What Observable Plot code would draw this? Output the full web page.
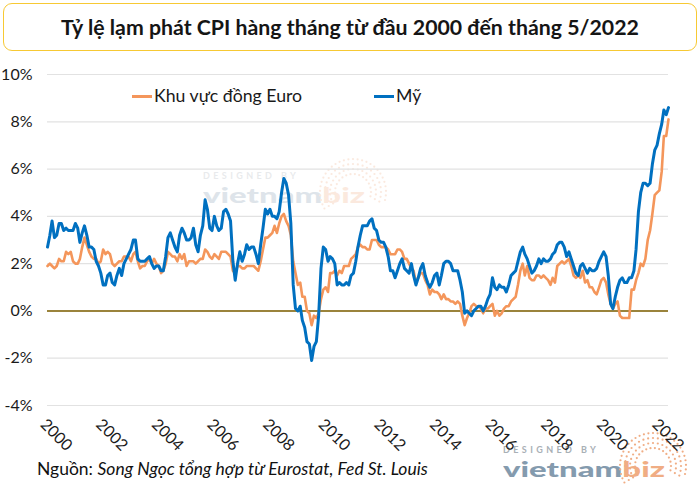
<!DOCTYPE html>
<html><head><meta charset="utf-8">
<script src="https://cdn.jsdelivr.net/npm/d3@7"></script>
<script src="https://cdn.jsdelivr.net/npm/@observablehq/plot@0.6"></script>
<style>
html,body{margin:0;padding:0;background:#fff;}
#wrap{position:relative;width:700px;height:490px;overflow:hidden;font-family:Lato,"Noto Sans",sans-serif;color:#1a1a1a;}
#title{position:absolute;left:3px;top:3px;width:694px;height:48px;box-sizing:border-box;border:1.5px solid #F7C934;border-radius:9px;display:flex;align-items:center;justify-content:center;font-weight:700;font-size:21.3px;color:#151515;}
#chart{position:absolute;left:0;top:56px;}
#legend{position:absolute;top:86px;left:0;font-size:17.7px;line-height:20px;}
.li{position:absolute;top:0;white-space:nowrap;display:flex;align-items:center;}
.sw{display:inline-block;width:20px;height:3px;margin-right:2px;}
#caption{position:absolute;left:37px;top:459px;font-size:17.5px;line-height:20px;color:#111;}
#wm{position:absolute;left:0;top:0;pointer-events:none;}
</style></head>
<body><div id="wrap">
<svg id="wm" width="700" height="490"></svg>
<div id="chart"></div>
<div id="title"></div>
<div id="legend"></div>
<div id="caption"></div>
</div>
<script>
const titleText = "Tỷ lệ lạm phát CPI hàng tháng từ đầu 2000 đến tháng 5/2022";
const captionLead = "Nguồn:";
const captionRest = "Song Ngọc tổng hợp từ Eurostat, Fed St. Louis";
const seriesNames = ["Khu vực đồng Euro", "Mỹ"];
const seriesColors = ["#F4965B", "#0070C0"];
const years = d3.range(2000, 2023);
const yTicks = [-4, -2, 0, 2, 4, 6, 8, 10];
const xTickYears = [2000, 2002, 2004, 2006, 2008, 2010, 2012, 2014, 2016, 2018, 2020, 2022];

// Euro area HICP, % y/y, monthly (Jan..Dec), 2000 .. May 2022
const euroArea = [
  [1.9, 2.0, 1.9, 1.8, 1.9, 2.2, 2.1, 2.1, 2.5, 2.4, 2.5, 2.1],
  [2.0, 2.0, 2.2, 2.7, 3.1, 2.8, 2.5, 2.3, 2.2, 2.2, 2.0, 2.1],
  [2.6, 2.4, 2.5, 2.4, 2.0, 1.9, 2.0, 2.1, 2.1, 2.3, 2.3, 2.3],
  [2.1, 2.4, 2.5, 2.1, 1.8, 1.9, 1.9, 2.1, 2.2, 2.0, 2.2, 2.0],
  [1.9, 1.6, 1.7, 2.0, 2.5, 2.4, 2.3, 2.3, 2.1, 2.4, 2.2, 2.4],
  [1.9, 2.1, 2.1, 2.1, 2.0, 2.1, 2.2, 2.2, 2.6, 2.5, 2.3, 2.2],
  [2.4, 2.3, 2.2, 2.5, 2.5, 2.5, 2.4, 2.3, 1.7, 1.6, 1.9, 1.9],
  [1.8, 1.8, 1.9, 1.9, 1.9, 1.9, 1.8, 1.7, 2.1, 2.6, 3.1, 3.1],
  [3.2, 3.3, 3.6, 3.3, 3.7, 4.0, 4.1, 3.8, 3.6, 3.2, 2.1, 1.6],
  [1.1, 1.2, 0.6, 0.6, 0.0, -0.1, -0.6, -0.2, -0.3, -0.1, 0.5, 0.9],
  [1.0, 0.8, 1.6, 1.6, 1.7, 1.5, 1.7, 1.6, 1.9, 1.9, 1.9, 2.2],
  [2.3, 2.4, 2.7, 2.8, 2.7, 2.7, 2.6, 2.6, 3.0, 3.0, 3.0, 2.8],
  [2.7, 2.7, 2.7, 2.6, 2.4, 2.4, 2.4, 2.6, 2.6, 2.5, 2.2, 2.2],
  [2.0, 1.8, 1.7, 1.2, 1.4, 1.6, 1.6, 1.3, 1.1, 0.7, 0.9, 0.8],
  [0.8, 0.7, 0.5, 0.7, 0.5, 0.5, 0.4, 0.4, 0.3, 0.4, 0.3, -0.2],
  [-0.6, -0.3, -0.1, 0.2, 0.3, 0.2, 0.2, 0.1, -0.1, 0.1, 0.1, 0.2],
  [0.3, -0.2, 0.0, -0.2, -0.1, 0.1, 0.2, 0.2, 0.4, 0.5, 0.6, 1.1],
  [1.7, 2.0, 1.5, 1.9, 1.4, 1.3, 1.3, 1.5, 1.5, 1.4, 1.5, 1.4],
  [1.3, 1.1, 1.4, 1.2, 1.9, 2.0, 2.1, 2.0, 2.1, 2.2, 1.9, 1.5],
  [1.4, 1.5, 1.4, 1.7, 1.2, 1.3, 1.0, 1.0, 0.8, 0.7, 1.0, 1.3],
  [1.4, 1.2, 0.7, 0.3, 0.1, 0.3, 0.4, -0.2, -0.3, -0.3, -0.3, -0.3],
  [0.9, 0.9, 1.3, 1.6, 2.0, 1.9, 2.2, 3.0, 3.4, 4.1, 4.9, 5.0],
  [5.1, 5.9, 7.4, 7.4, 8.1]
];

// US CPI-U, % y/y, monthly (Jan..Dec), 2000 .. May 2022
const usa = [
  [2.7, 3.2, 3.8, 3.1, 3.2, 3.7, 3.7, 3.4, 3.5, 3.4, 3.4, 3.4],
  [3.7, 3.5, 2.9, 3.3, 3.6, 3.2, 2.7, 2.7, 2.6, 2.1, 1.9, 1.6],
  [1.1, 1.1, 1.5, 1.6, 1.2, 1.1, 1.5, 1.8, 1.5, 2.0, 2.2, 2.4],
  [2.6, 3.0, 3.0, 2.2, 2.1, 2.1, 2.1, 2.2, 2.3, 2.0, 1.8, 1.9],
  [1.9, 1.7, 1.7, 2.3, 3.1, 3.3, 3.0, 2.7, 2.5, 3.2, 3.5, 3.3],
  [3.0, 3.0, 3.1, 3.5, 2.8, 2.5, 3.2, 3.6, 4.7, 4.3, 3.5, 3.4],
  [4.0, 3.6, 3.4, 3.5, 4.2, 4.3, 4.1, 3.8, 2.1, 1.3, 2.0, 2.5],
  [2.1, 2.4, 2.8, 2.6, 2.7, 2.7, 2.4, 2.0, 2.8, 3.5, 4.3, 4.1],
  [4.3, 4.0, 4.0, 3.9, 4.2, 5.0, 5.6, 5.4, 4.9, 3.7, 1.1, 0.1],
  [0.0, 0.2, -0.4, -0.7, -1.3, -1.4, -2.1, -1.5, -1.3, -0.2, 1.8, 2.7],
  [2.6, 2.1, 2.3, 2.2, 2.0, 1.1, 1.2, 1.1, 1.1, 1.2, 1.1, 1.5],
  [1.6, 2.1, 2.7, 3.2, 3.6, 3.6, 3.6, 3.8, 3.9, 3.5, 3.4, 3.0],
  [2.9, 2.9, 2.7, 2.3, 1.7, 1.7, 1.4, 1.7, 2.0, 2.2, 1.8, 1.7],
  [1.6, 2.0, 1.5, 1.1, 1.4, 1.8, 2.0, 1.5, 1.2, 1.0, 1.2, 1.5],
  [1.6, 1.1, 1.5, 2.0, 2.1, 2.1, 2.0, 1.7, 1.7, 1.7, 1.3, 0.8],
  [-0.1, 0.0, -0.1, -0.2, 0.0, 0.1, 0.2, 0.2, 0.0, 0.2, 0.5, 0.7],
  [1.4, 1.0, 0.9, 1.1, 1.0, 1.0, 0.8, 1.1, 1.5, 1.6, 1.7, 2.1],
  [2.5, 2.7, 2.4, 2.2, 1.9, 1.6, 1.7, 1.9, 2.2, 2.0, 2.2, 2.1],
  [2.1, 2.2, 2.4, 2.5, 2.8, 2.9, 2.9, 2.7, 2.3, 2.5, 2.2, 1.9],
  [1.6, 1.5, 1.9, 2.0, 1.8, 1.6, 1.8, 1.7, 1.7, 1.8, 2.1, 2.3],
  [2.5, 2.3, 1.5, 0.3, 0.1, 0.6, 1.0, 1.3, 1.4, 1.2, 1.2, 1.4],
  [1.4, 1.7, 2.6, 4.2, 5.0, 5.4, 5.4, 5.3, 5.4, 6.2, 6.8, 7.0],
  [7.5, 7.9, 8.5, 8.3, 8.6]
];

function toRows(table, name) {
  const rows = [];
  table.forEach((vals, i) => vals.forEach((v, m) => rows.push({date: new Date(Date.UTC(years[i], m, 1)), value: v, series: name})));
  return rows;
}
const euroRows = toRows(euroArea, seriesNames[0]);
const usRows = toRows(usa, seriesNames[1]);
const xTicks = xTickYears.map(y => new Date(Date.UTC(y, 0, 1)));

const chart = Plot.plot({
  width: 700,
  height: 400,
  marginTop: 18,
  marginBottom: 51,
  marginLeft: 47,
  marginRight: 32,
  style: {fontFamily: "Lato, 'Noto Sans', sans-serif", color: "#1a1a1a", background: "transparent"},
  x: {type: "utc", domain: [new Date(Date.UTC(2000, 0, 1)), new Date(Date.UTC(2022, 4, 1))], axis: null},
  y: {domain: [-4, 10], axis: null},
  marks: [
    Plot.gridY(yTicks, {stroke: "#e2e2e2", strokeOpacity: 1, strokeWidth: 1.2}),
    Plot.ruleY([0], {stroke: "#7F6000", strokeWidth: 1.6}),
    Plot.line(euroRows, {x: "date", y: "value", stroke: seriesColors[0], strokeWidth: 2.6, curve: "linear"}),
    Plot.line(usRows, {x: "date", y: "value", stroke: seriesColors[1], strokeWidth: 3, curve: "linear"}),
    Plot.axisY(yTicks, {tickSize: 0, tickPadding: 15, tickFormat: d => d + "%", fontSize: 16, label: null}),
    Plot.text(xTicks, {x: d => d, frameAnchor: "bottom", text: d => String(d.getUTCFullYear()), rotate: 45, textAnchor: "start", lineAnchor: "top", dx: 0, dy: 12, fontSize: 16, fill: "#1a1a1a"})
  ]
});
document.getElementById("chart").appendChild(chart);

document.getElementById("title").textContent = titleText;

const legend = document.getElementById("legend");
const legendLeft = [132, 374];
seriesNames.forEach((n, i) => {
  const d = document.createElement("div");
  d.className = "li";
  d.style.left = legendLeft[i] + "px";
  d.innerHTML = `<span class="sw" style="background:${seriesColors[i]}"></span><span>${n}</span>`;
  legend.appendChild(d);
});

document.getElementById("caption").innerHTML = `${captionLead} <i>${captionRest}</i>`;

// faint watermarks
const wm = d3.select("#wm");
function mark(x, y, op) {
  const g = wm.append("g").attr("transform", `translate(${x},${y})`).attr("opacity", op);
  g.append("text").attr("x", 0).attr("y", -3).attr("font-family", "Lato, sans-serif").attr("font-size", 9).attr("font-weight", 700)
    .attr("letter-spacing", 3.4).attr("fill", "#9aa3aa").text("DESIGNED BY");
  const t = g.append("text").attr("x", 0).attr("y", 21).attr("font-family", "Lato, sans-serif").attr("font-size", 21).attr("font-weight", 900)
    .attr("textLength", 162).attr("lengthAdjust", "spacingAndGlyphs");
  t.append("tspan").attr("fill", "#6f8aa1").text("vietnam");
  t.append("tspan").attr("fill", "#ee9f6f").text("biz");
  const arc = g.append("g").attr("fill", "#ee9f6f");
  for (let r = 0; r < 4; r++) {
    const R = 18 + r * 5;
    for (let a = -120; a <= 110; a += 14 - r * 2) {
      const rad = a * Math.PI / 180;
      arc.append("circle").attr("cx", 150 + R * Math.sin(rad)).attr("cy", 10 - R * Math.cos(rad)).attr("r", 1.1);
    }
  }
}
mark(203, 182, 0.22);
mark(503, 456, 0.85);
</script>
</body></html>
